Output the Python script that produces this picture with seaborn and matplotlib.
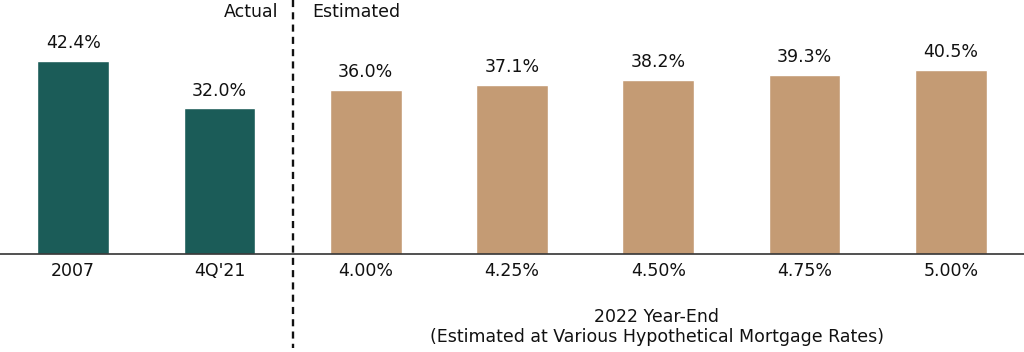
import matplotlib
matplotlib.use("Agg")
import matplotlib.pyplot as plt
import seaborn as sns
import pandas as pd
from matplotlib.lines import Line2D

categories = ["2007", "4Q'21", "4.00%", "4.25%", "4.50%", "4.75%", "5.00%"]
values = [42.4, 32.0, 36.0, 37.1, 38.2, 39.3, 40.5]
groups = ["Actual", "Actual", "Estimated", "Estimated", "Estimated", "Estimated", "Estimated"]
colors = {"Actual": "#1b5c58", "Estimated": "#c49b74"}
xlabel_text = "2022 Year-End\n(Estimated at Various Hypothetical Mortgage Rates)"

sns.set_theme(style="white")
plt.rcParams["font.family"] = ["DejaVu Sans"]

df = pd.DataFrame({"cat": categories, "val": values, "grp": groups})

fig = plt.figure(figsize=(10.24, 3.52), dpi=100)
ax = fig.add_axes([0.0, 1 - 254 / 352, 1.0, 254 / 352])
sns.barplot(data=df, x="cat", y="val", hue="grp", palette=colors, dodge=False,
            width=0.49, ax=ax, legend=False, saturation=1)

ax.set_xlim(-0.5, 6.5)
ax.set_ylim(0, 55.8)
for s in ["top", "right", "left"]:
    ax.spines[s].set_visible(False)
ax.spines["bottom"].set_color("#333333")
ax.spines["bottom"].set_linewidth(1.2)
ax.set_yticks([])
ax.set_xlabel("")
ax.set_ylabel("")
ax.tick_params(axis="x", length=0, pad=6, labelsize=12.5, labelcolor="#111111")

for i, v in enumerate(values):
    ax.text(i, v + 1.9, f"{v:.1f}%", ha="center", va="bottom", fontsize=12.5, color="#111111")

# dashed divider
line = Line2D([293 / 1024, 293 / 1024], [1.0, 4 / 352], transform=fig.transFigure,
              color="#111111", linestyle=(0, (3, 2.2)), linewidth=1.7)
fig.add_artist(line)

fig.text(278 / 1024, 1 - 12 / 352, "Actual", ha="right", va="center", fontsize=12.5, color="#111111")
fig.text(312 / 1024, 1 - 12 / 352, "Estimated", ha="left", va="center", fontsize=12.5, color="#111111")

fig.text(657 / 1024, 1 - 327 / 352, xlabel_text, ha="center", va="center", fontsize=12.5,
         color="#111111", linespacing=1.15)

fig.savefig("out.png", dpi=100)
